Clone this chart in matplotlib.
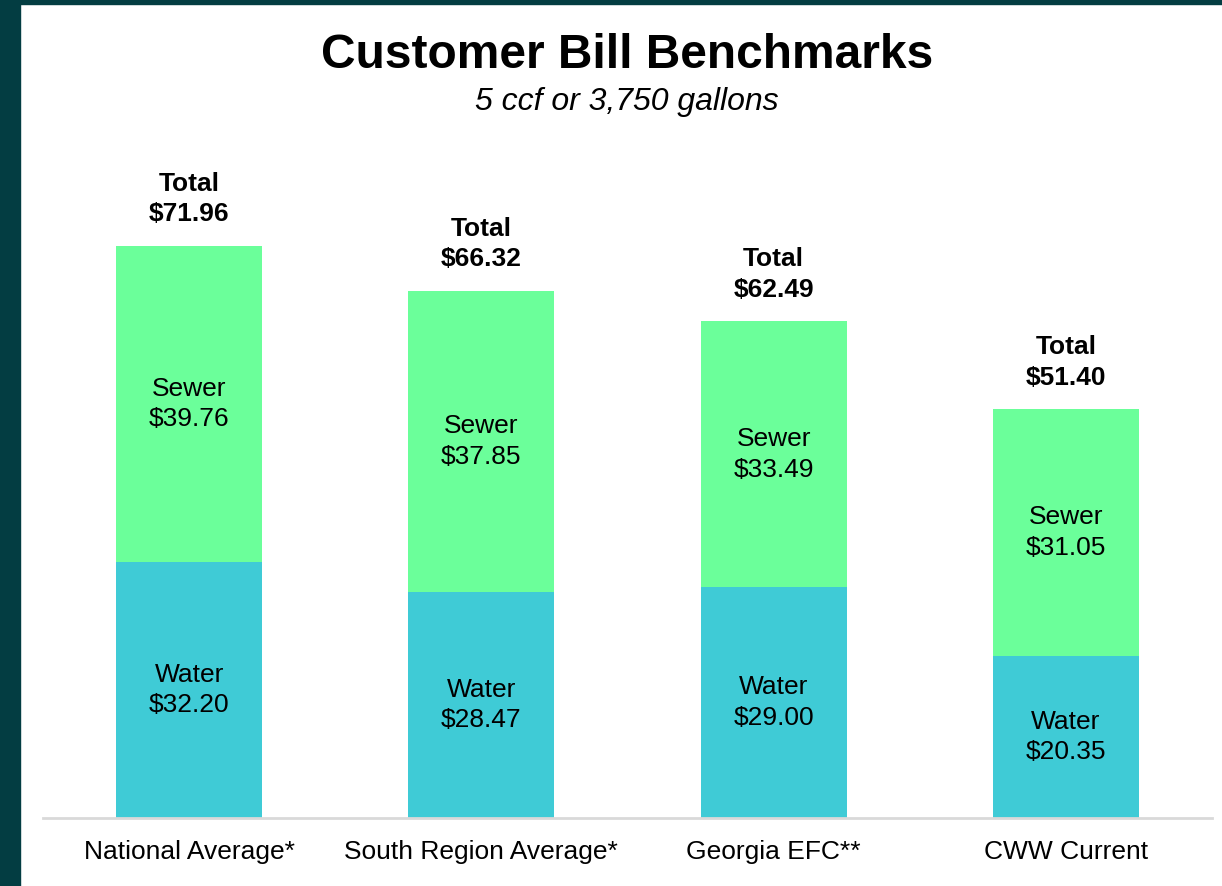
import matplotlib.pyplot as plt
from matplotlib.patches import Rectangle

categories = ['National Average*', 'South Region Average*', 'Georgia EFC**', 'CWW Current']
water = [32.20, 28.47, 29.00, 20.35]
sewer = [39.76, 37.85, 33.49, 31.05]
totals = [71.96, 66.32, 62.49, 51.40]

water_color = '#3fcbd6'
sewer_color = '#6bff9a'
frame_color = '#033d42'

plt.rcParams['font.family'] = ['Liberation Sans', 'DejaVu Sans']

fig = plt.figure(figsize=(12.22, 8.86), dpi=100)

# dark frame on left and top edges
fig.patches.append(Rectangle((0, 0), 20 / 1222, 1, transform=fig.transFigure,
                             color=frame_color, zorder=0))
fig.patches.append(Rectangle((0, 1 - 4 / 886), 1, 4 / 886, transform=fig.transFigure,
                             color=frame_color, zorder=0))

ax = fig.add_axes([43 / 1222, 1 - 818 / 886, (1212 - 43) / 1222, (818 - 140) / 886])

x = range(len(categories))
ax.bar(x, water, width=0.5, color=water_color)
ax.bar(x, sewer, width=0.5, bottom=water, color=sewer_color)

fs = 19
ls = 1.35
for i in x:
    ax.text(i, water[i] / 2, 'Water\n$%.2f' % water[i], ha='center', va='center',
            fontsize=fs, linespacing=ls)
    ax.text(i, water[i] + sewer[i] / 2, 'Sewer\n$%.2f' % sewer[i], ha='center',
            va='center', fontsize=fs, linespacing=ls)
    ax.annotate('Total\n$%.2f' % totals[i], (i, totals[i]), xytext=(0, 14),
                textcoords='offset points', ha='center', va='bottom',
                fontsize=fs, fontweight='bold', linespacing=ls)

ax.set_xlim(-0.5, 3.5)
ax.set_ylim(0, 678 / 7.95)
ax.set_xticks(list(x))
ax.set_xticklabels(categories, fontsize=fs)
ax.tick_params(axis='x', length=0, pad=16)
ax.set_yticks([])
for s in ['top', 'right', 'left']:
    ax.spines[s].set_visible(False)
ax.spines['bottom'].set_color('#d9d9d9')
ax.spines['bottom'].set_linewidth(2)

fig.text(627 / 1222, 1 - 55 / 886, 'Customer Bill Benchmarks', ha='center', va='center',
         fontsize=34.5, fontweight='bold')
fig.text(627 / 1222, 1 - 102 / 886, '5 ccf or 3,750 gallons', ha='center', va='center',
         fontsize=23, fontstyle='italic')

fig.savefig('out.png', dpi=100)
